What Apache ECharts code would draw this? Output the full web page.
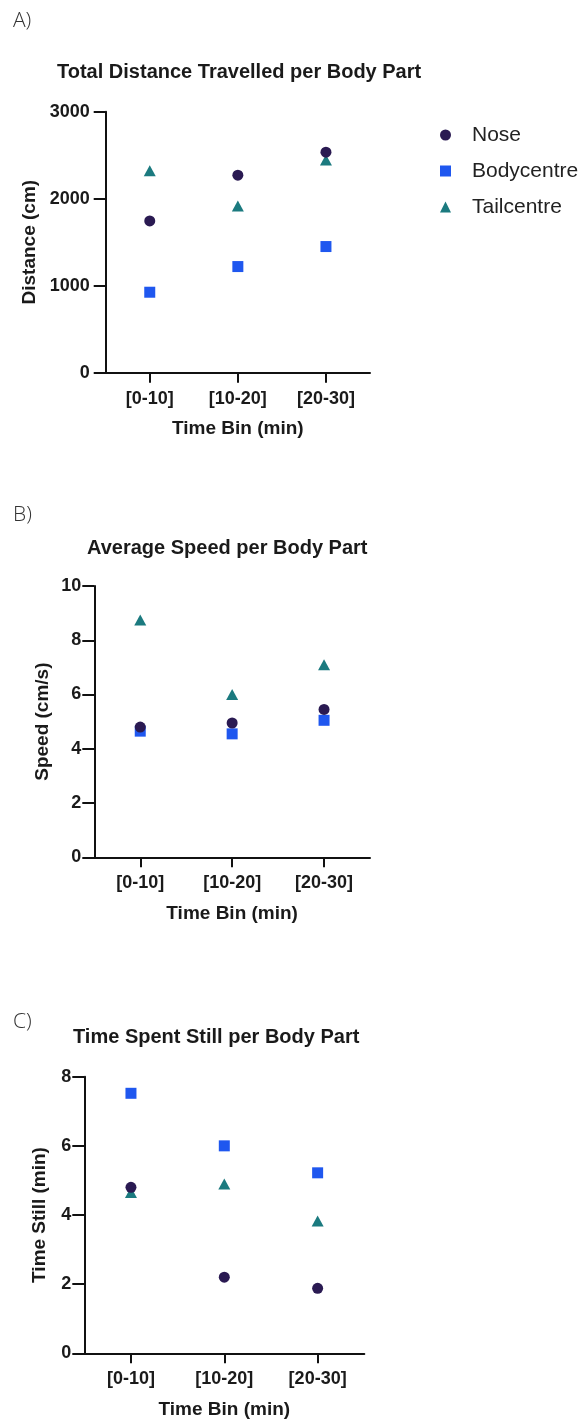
<!DOCTYPE html>
<html>
<head>
<meta charset="utf-8">
<script src="https://cdn.jsdelivr.net/npm/echarts@6/dist/echarts.min.js"></script>
<style>
html,body{margin:0;padding:0;background:#fff;}
#chart{width:581px;height:1425px;}
</style>
</head>
<body>
<div id="chart"></div>
<script>
const categories = ['[0-10]', '[10-20]', '[20-30]'];
const seriesNames = ['Nose', 'Bodycentre', 'Tailcentre'];

const distNose = [1745, 2270, 2535];
const distBody = [925, 1220, 1450];
const distTail = [2320, 1915, 2445];

const speedNose = [4.8, 4.95, 5.45];
const speedBody = [4.65, 4.55, 5.05];
const speedTail = [8.75, 6.0, 7.1];

const stillNose = [4.8, 2.2, 1.88];
const stillBody = [7.52, 6.0, 5.22];
const stillTail = [4.65, 4.9, 3.83];

const panelTitles = ['Total Distance Travelled per Body Part', 'Average Speed per Body Part', 'Time Spent Still per Body Part'];
const yNames = ['Distance (cm)', 'Speed (cm/s)', 'Time Still (min)'];
const xName = 'Time Bin (min)';
const yMax = [3000, 10, 8];
const yInterval = [1000, 2, 2];

const colors = { Nose: '#2a1a52', Bodycentre: '#1f57ef', Tailcentre: '#1b7a7f' };
const symbols = { Nose: 'circle', Bodycentre: 'rect', Tailcentre: 'triangle' };
const symSizes = { Nose: 11, Bodycentre: 11, Tailcentre: [12, 11] };

const FONT = '"Liberation Sans", Arial, sans-serif';

const grids = [
  { left: 105.7, top: 111.7, width: 264.3, height: 261 },
  { left: 94.3, top: 586, width: 275.7, height: 271.3 },
  { left: 84.3, top: 1076.7, width: 280, height: 276.6 }
];
const yNameGaps = [66, 42, 35];
const yLabelMargins = [16, 13, 13];
const titleTops = [61, 537, 1026];
const titleLefts = [57, 87, 73];

const panelData = [
  { Nose: distNose, Bodycentre: distBody, Tailcentre: distTail },
  { Nose: speedNose, Bodycentre: speedBody, Tailcentre: speedTail },
  { Nose: stillNose, Bodycentre: stillBody, Tailcentre: stillTail }
];

const axisLine = { show: true, lineStyle: { color: '#111', width: 2 } };

const xAxes = grids.map((g, i) => ({
  type: 'category', gridIndex: i, data: categories,
  boundaryGap: true,
  axisLine: axisLine,
  axisTick: { show: true, alignWithLabel: true, length: 10, lineStyle: { color: '#111', width: 2 } },
  axisLabel: { margin: 17, color: '#1a1a1a', fontSize: 18, fontWeight: 'bold', fontFamily: FONT },
  name: xName, nameLocation: 'middle', nameGap: 47,
  nameTextStyle: { color: '#1a1a1a', fontSize: 19, fontWeight: 'bold', fontFamily: FONT, verticalAlign: 'top' },
  splitLine: { show: false }
}));

const yAxes = grids.map((g, i) => ({
  type: 'value', gridIndex: i, min: 0, max: yMax[i], interval: yInterval[i],
  axisLine: axisLine,
  axisTick: { show: true, length: 12, lineStyle: { color: '#111', width: 2 } },
  axisLabel: { margin: yLabelMargins[i], color: '#1a1a1a', fontSize: 18, fontWeight: 'bold', fontFamily: FONT,
    formatter: v => String(v) },
  name: yNames[i], nameLocation: 'middle', nameGap: yNameGaps[i], nameRotate: 90,
  nameTextStyle: { color: '#1a1a1a', fontSize: 19, fontWeight: 'bold', fontFamily: FONT },
  splitLine: { show: false }
}));

const drawOrder = ['Bodycentre', 'Tailcentre', 'Nose'];
const series = [];
panelData.forEach((pd, i) => {
  drawOrder.forEach(name => {
    series.push({
      type: 'scatter', name: name, xAxisIndex: i, yAxisIndex: i,
      data: pd[name], symbol: symbols[name], symbolSize: symSizes[name],
      itemStyle: { color: colors[name], opacity: 1 },
      z: name === 'Nose' ? 4 : 3
    });
  });
});

const titles = panelTitles.map((t, i) => ({
  text: t, left: titleLefts[i], top: titleTops[i], padding: 0,
  textStyle: { fontSize: 20, fontWeight: 'bold', color: '#1a1a1a', fontFamily: FONT, lineHeight: 22 }
}));

const panelLabels = ['A)', 'B)', 'C)'];
const labelTops = [11, 505, 1012];
const graphic = panelLabels.map((l, i) => ({
  type: 'text', left: 13, top: labelTops[i],
  style: { text: l, fontSize: 21, fontFamily: '"Open Sans", "Noto Sans", sans-serif', fontWeight: 300, fill: '#333' }
}));

const chart = echarts.init(document.getElementById('chart'), null, { renderer: 'canvas' });
chart.setOption({
  animation: false,
  backgroundColor: '#ffffff',
  title: titles,
  graphic: graphic,
  legend: {
    orient: 'vertical', left: 435, top: 118,
    itemWidth: 11, itemHeight: 11, itemGap: 12,
    data: seriesNames.map(n => ({ name: n, icon: symbols[n] })),
    textStyle: { fontSize: 21, color: '#222', fontFamily: FONT, lineHeight: 24, padding: [0, 0, 0, 16] }
  },
  grid: grids,
  xAxis: xAxes,
  yAxis: yAxes,
  series: series
});
</script>
</body>
</html>
